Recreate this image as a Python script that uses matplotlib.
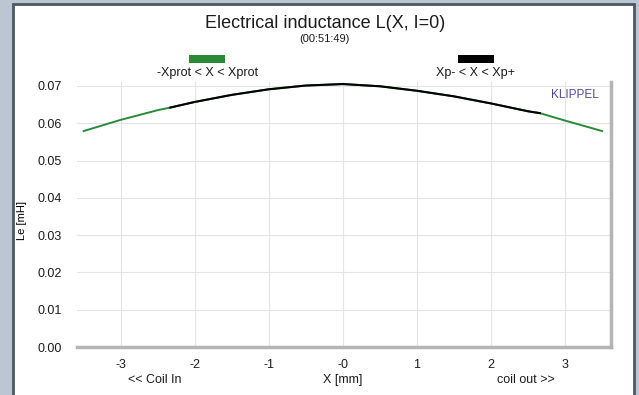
import matplotlib.pyplot as plt
from matplotlib.patches import Rectangle

plt.rcParams["font.family"] = ["Liberation Sans", "DejaVu Sans"]
plt.rcParams["text.color"] = "#1c1c1c"

# displacement [mm] and inductance Le [mH] at I=0
x_mm = [-3.5, -3.0, -2.5, -2.33, -2.0, -1.5, -1.0, -0.5, 0.0, 0.5, 1.0, 1.5, 2.0, 2.5, 2.66, 3.0, 3.5]
le_mh = [0.0579, 0.0609, 0.0635, 0.0642, 0.0657, 0.0676, 0.0691, 0.0701, 0.0705,
         0.0699, 0.0687, 0.0672, 0.0653, 0.0632, 0.0627, 0.0607, 0.0579]

# working range limits
xp_minus = -2.33
xp_plus = 2.66

x_ticks = [-3, -2, -1, 0, 1, 2, 3]
x_tick_labels = ["-3", "-2", "-1", "-0", "1", "2", "3"]
y_ticks = [0.00, 0.01, 0.02, 0.03, 0.04, 0.05, 0.06, 0.07]

green = "#2b8a3a"
frame_bg = "#bcc6d2"
small = 9

fig = plt.figure(figsize=(6.39, 3.95), dpi=100)
fig.patch.set_facecolor(frame_bg)

# white panel with dark border, kept behind the axes
panel = Rectangle((13 / 639, -0.05), (634 - 13) / 639, 1 - 4 / 395 + 0.05,
                  transform=fig.transFigure, facecolor="white",
                  edgecolor="#4d5866", linewidth=2, zorder=-10)
fig.patches.append(panel)

ax = fig.add_axes([77 / 639, 1 - 347 / 395, (611 - 77) / 639, (347 - 82) / 395])
ax.set_zorder(1)
ax.set_facecolor("white")
ax.set_xlim(-3.59, 3.62)
ax.set_ylim(0, 0.07105)

ax.plot(x_mm, le_mh, color=green, linewidth=1.4, zorder=3)
inner = [(x, y) for x, y in zip(x_mm, le_mh) if xp_minus <= x <= xp_plus]
ax.plot([p[0] for p in inner], [p[1] for p in inner], color="black", linewidth=1.5, zorder=4)

ax.set_xticks(x_ticks)
ax.set_xticklabels(x_tick_labels)
ax.set_yticks(y_ticks)
ax.set_yticklabels([f"{v:.2f}" for v in y_ticks])
ax.tick_params(length=0, labelsize=small, colors="#1c1c1c")
ax.tick_params(axis="x", pad=9)
ax.tick_params(axis="y", pad=11)
ax.grid(True, color="#e4e4e4", linewidth=0.8)

for side in ["left", "top"]:
    ax.spines[side].set_visible(False)
for side in ["bottom", "right"]:
    ax.spines[side].set_color("#b4b4b4")
    ax.spines[side].set_linewidth(2.5)

ax.set_ylabel("Le [mH]", fontsize=8)
ax.yaxis.set_label_coords(-0.093, 0.479)

fig.text(343 / 639, 1 - 380 / 395, "X [mm]", fontsize=small, ha="center", va="center")
fig.text(155 / 639, 1 - 380 / 395, "<< Coil In", fontsize=small, ha="center", va="center")
fig.text(526 / 639, 1 - 380 / 395, "coil out >>", fontsize=small, ha="center", va="center")

fig.text(325 / 639, 1 - 24 / 395, "Electrical inductance L(X, I=0)", fontsize=13,
         ha="center", va="center")
fig.text(324 / 639, 1 - 39 / 395, "(00:51:49)", fontsize=8, ha="center", va="center")

# legend swatches
fig.patches.append(Rectangle((189 / 639, 1 - 63 / 395), 36 / 639, 8 / 395,
                             transform=fig.transFigure, facecolor=green, edgecolor="none"))
fig.text(208 / 639, 1 - 73 / 395, "-Xprot < X < Xprot", fontsize=small, ha="center", va="center")
fig.patches.append(Rectangle((458 / 639, 1 - 63 / 395), 36 / 639, 8 / 395,
                             transform=fig.transFigure, facecolor="black", edgecolor="none"))
fig.text(476 / 639, 1 - 73 / 395, "Xp- < X < Xp+", fontsize=small, ha="center", va="center")

fig.text(575 / 639, 1 - 95 / 395, "KLIPPEL", fontsize=8.5, color="#4e4a9a",
         ha="center", va="center", zorder=5)

fig.savefig("out.png", dpi=100, facecolor=fig.get_facecolor())
